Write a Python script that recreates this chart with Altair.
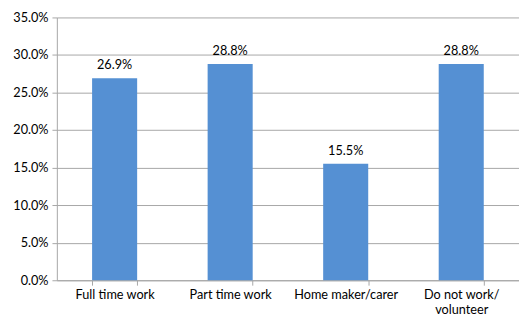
import altair as alt
import pandas as pd

categories = ["Full time work", "Part time work", "Home maker/carer", "Do not work/volunteer"]
values = [0.269, 0.288, 0.155, 0.288]
y_ticks = [0, 0.05, 0.1, 0.15, 0.2, 0.25, 0.3, 0.35]

df = pd.DataFrame({"cat": categories, "val": values})

FONT = "Lato"

x = alt.X("cat:N", sort=categories,
          scale=alt.Scale(paddingInner=0.61, paddingOuter=0.305),
          axis=alt.Axis(title=None, labelAngle=0, labelFont=FONT, labelFontSize=13,
                        labelColor="#000000", domainColor="#A6A6A6", tickColor="#A6A6A6",
                        tickBand="extent", tickSize=5, labelPadding=4, labelLineHeight=15,
                        labelExpr="datum.value == 'Do not work/volunteer' ? ['Do not work/', 'volunteer'] : datum.value"))
y = alt.Y("val:Q", scale=alt.Scale(domain=[0, 0.35], nice=False),
          axis=alt.Axis(title=None, format=".1%", values=y_ticks, labelOverlap=False,
                        labelFont=FONT, labelFontSize=13, labelColor="#000000",
                        domainColor="#A6A6A6", tickColor="#A6A6A6", tickSize=5,
                        gridColor="#A6A6A6", gridWidth=1, labelPadding=4))

base = alt.Chart(df).encode(x=x, y=y)
bars = base.mark_bar(color="#5590D3")
text = base.mark_text(baseline="bottom", dy=-6, font=FONT, fontSize=13, color="#000000").encode(
    text=alt.Text("val:Q", format=".1%"))

chart = (bars + text).properties(width=473, height=269, padding={"left": 4, "top": 0, "right": 0, "bottom": 0}).configure_view(stroke=None)

chart.save("out.html", embed_options={"renderer": "svg", "actions": False})
